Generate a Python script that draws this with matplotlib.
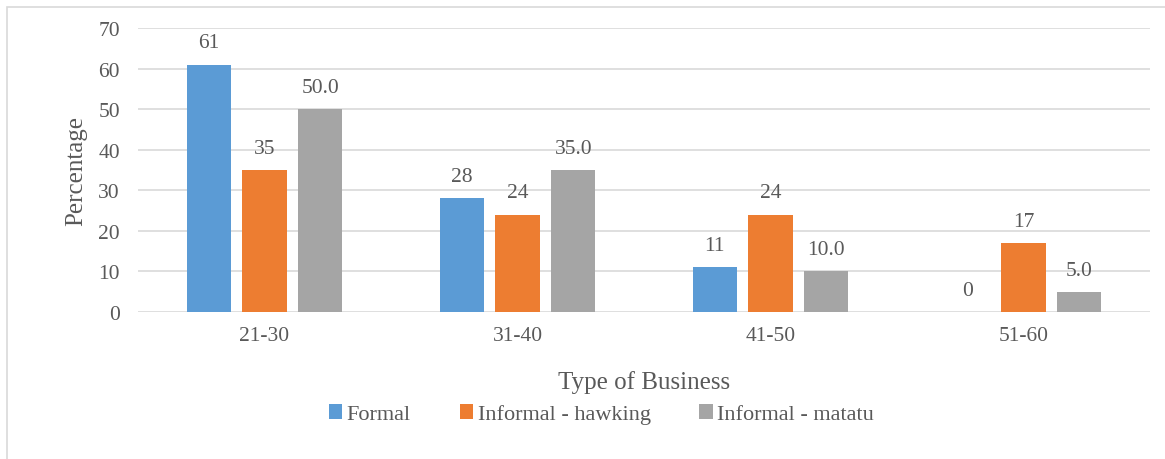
import matplotlib.pyplot as plt
import numpy as np
from matplotlib.patches import Rectangle

plt.rcParams['font.family'] = ['Liberation Serif', 'DejaVu Serif']

# data
age_groups = ["21-30", "31-40", "41-50", "51-60"]
formal = [61, 28, 11, 0]
hawking = [35, 24, 24, 17]
matatu = [50.0, 35.0, 10.0, 5.0]

series = [
    ("Formal", formal, "#5B9BD5", "{:.0f}"),
    ("Informal - hawking", hawking, "#ED7D31", "{:.0f}"),
    ("Informal - matatu", matatu, "#A5A5A5", "{:.1f}"),
]

text_color = "#595959"

fig = plt.figure(figsize=(11.65, 4.6), dpi=100)
ax = fig.add_axes([138 / 1165, 1 - 313 / 460, (1150 - 138) / 1165, (313 - 29) / 460])

# light frame around the chart
fig.patches.append(Rectangle((7 / 1165, -0.05), 1.1, 1 - 8 / 460 + 0.05,
                             transform=fig.transFigure, fill=False,
                             edgecolor="#D9D9D9", linewidth=1.2))

x = np.arange(len(age_groups))
width = 0.174
step = 0.221

for i, (name, vals, color, fmt) in enumerate(series):
    pos = x + (i - 1) * step
    bars = ax.bar(pos, vals, width, color=color, label=name, zorder=3)
    for b, v in zip(bars, vals):
        ax.text(b.get_x() + b.get_width() / 2, v + 3.0, fmt.format(v),
                ha="center", va="bottom", fontsize=15.5, color=text_color)

ax.set_xlim(-0.5, 3.5)
ax.set_ylim(0, 70)
ax.set_yticks(range(0, 71, 10))
ax.set_xticks(x)
ax.set_xticklabels(age_groups)
ax.yaxis.grid(True, color="#D9D9D9", linewidth=1.2, zorder=0)
ax.set_axisbelow(True)
for s in ax.spines.values():
    s.set_visible(False)
ax.tick_params(axis="both", length=0, labelsize=15.5, colors=text_color)
ax.tick_params(axis="x", pad=10)
ax.tick_params(axis="y", pad=13)

ax.set_ylabel("Percentage", fontsize=18, color=text_color, labelpad=8)
ax.set_xlabel("Type of Business", fontsize=18, color=text_color, labelpad=18)

ax.legend(loc="upper center", bbox_to_anchor=(0.458, -0.255), ncol=3,
          frameon=False, fontsize=16, labelcolor=text_color,
          handlelength=0.6, handleheight=0.6, handletextpad=0.2,
          columnspacing=2.2)

fig.savefig("out.png", dpi=100)
